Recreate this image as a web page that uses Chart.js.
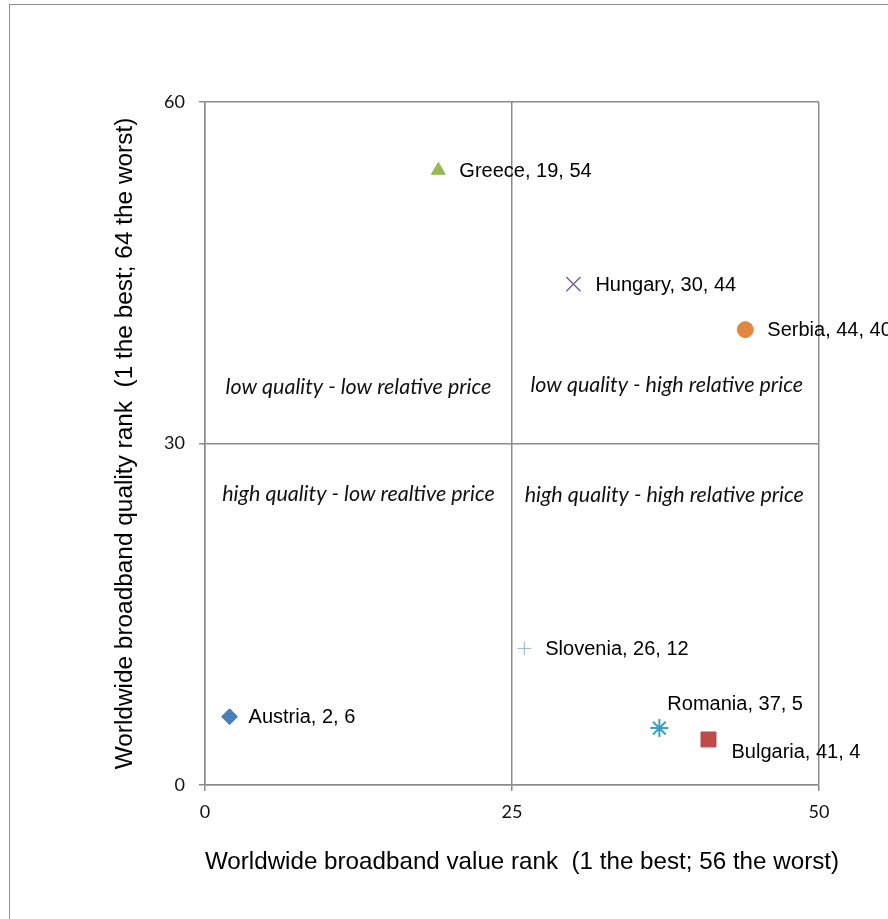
<!DOCTYPE html>
<html>
<head>
<meta charset="utf-8">
<script src="https://cdn.jsdelivr.net/npm/chart.js@4"></script>
<style>
  html, body { margin: 0; padding: 0; background: #fff; }
  #wrap { width: 888px; height: 919px; position: relative; overflow: hidden; }
</style>
</head>
<body>
<div id="wrap"><canvas id="c" width="888" height="919"></canvas></div>
<script>
// Country ranks: broadband value (x) and broadband quality (y)
const countries = ['Austria', 'Bulgaria', 'Greece', 'Hungary', 'Romania', 'Serbia', 'Slovenia'];
const valueRank = [2, 41, 19, 30, 37, 44, 26];
const qualityRank = [6, 4, 54, 44, 5, 40, 12];

// Axis ticks
const xTicks = [0, 25, 50];
const yTicks = [0, 30, 60];

// Axis titles
const xTitle = 'Worldwide broadband value rank  (1 the best; 56 the worst)';
const yTitle = 'Worldwide broadband quality rank  (1 the best; 64 the worst)';

// Quadrant captions
const quadrantText = [
  'low quality - low relative price',
  'low quality - high relative price',
  'high quality - low realtive price',
  'high quality - high relative price'
];

// Marker styling per series
const markerStyle = ['rectRot', 'rect', 'triangle', 'crossRot', 'star', 'circle', 'cross'];
const markerColor = ['#4a7ebb', '#be4b48', '#98b954', '#7d60a0', '#3d9fc0', '#e3873e', '#95b3d7'];
const markerRadius = [8, 10.6, 8, 10, 9, 8, 7];
const markerBorder = [1, 1, 1, 1.5, 2, 1, 1];

// Where each point's label sits relative to its marker (dx, dy in px)
const labelOffset = [[19, 1], [23, 13], [21, 1], [22, 1], [8, -24], [22, 1], [21, 1]];
// Quadrant caption anchors in data units [x, y]
const quadrantAnchor = [[12.5, 35], [37.6, 35.1], [12.5, 25.6], [37.4, 25.5]];

const gridGray = '#8c8c8c';

const datasets = countries.map((name, i) => ({
  label: name,
  data: [{ x: valueRank[i], y: qualityRank[i] }],
  pointStyle: markerStyle[i],
  pointRadius: markerRadius[i],
  pointHoverRadius: markerRadius[i],
  backgroundColor: markerColor[i],
  borderColor: markerColor[i],
  borderWidth: markerBorder[i],
  showLine: false
}));

const decorations = {
  id: 'decorations',
  beforeDraw(chart) {
    const ctx = chart.ctx;
    ctx.save();
    ctx.strokeStyle = gridGray;
    ctx.lineWidth = 1;
    ctx.strokeRect(9.5, 4.5, 1000, 1000);
    ctx.restore();
  },
  afterDraw(chart) {
    // horizontal axis title, allowed to run wider than the plot area
    const ctx = chart.ctx;
    const area = chart.chartArea;
    ctx.save();
    ctx.font = '24.2px "Liberation Sans"';
    ctx.fillStyle = '#000';
    ctx.textAlign = 'center';
    ctx.textBaseline = 'middle';
    ctx.fillText(xTitle, (area.left + area.right) / 2 + 10, area.bottom + 77);
    ctx.restore();
  },
  afterDatasetsDraw(chart) {
    const ctx = chart.ctx;
    const xs = chart.scales.x, ys = chart.scales.y;
    ctx.save();
    // quadrant captions
    ctx.font = 'italic 21.5px Lato';
    ctx.fillStyle = '#111';
    ctx.textAlign = 'center';
    ctx.textBaseline = 'middle';
    quadrantText.forEach((t, i) => {
      ctx.fillText(t, xs.getPixelForValue(quadrantAnchor[i][0]), ys.getPixelForValue(quadrantAnchor[i][1]));
    });
    // point labels
    ctx.font = '20px "Liberation Sans"';
    ctx.textAlign = 'left';
    ctx.fillStyle = '#000';
    chart.data.datasets.forEach((ds, i) => {
      const el = chart.getDatasetMeta(i).data[0];
      const txt = `${countries[i]}, ${valueRank[i]}, ${qualityRank[i]}`;
      ctx.fillText(txt, el.x + labelOffset[i][0], el.y + labelOffset[i][1]);
    });
    ctx.restore();
  }
};

new Chart(document.getElementById('c'), {
  type: 'scatter',
  data: { datasets },
  options: {
    responsive: false,
    animation: false,
    events: [],
    layout: { padding: { top: 102, right: 69, left: 0, bottom: 0 } },
    plugins: { legend: { display: false }, tooltip: { enabled: false } },
    scales: {
      x: {
        type: 'linear',
        min: 0, max: 50,
        afterBuildTicks(scale) { scale.ticks = xTicks.map(v => ({ value: v })); },
        afterFit(scale) { scale.height = 134; },
        grid: { color: gridGray, lineWidth: 1.5, tickLength: 6, drawTicks: true },
        border: { color: gridGray, width: 1.5 },
        ticks: { padding: 10, color: '#111', font: { family: 'Lato', size: 18 } },
        title: { display: false }
      },
      y: {
        type: 'linear',
        min: 0, max: 60,
        afterBuildTicks(scale) { scale.ticks = yTicks.map(v => ({ value: v })); },
        afterFit(scale) { scale.width = 205; },
        grid: { color: gridGray, lineWidth: 1.5, tickLength: 6, drawTicks: true },
        border: { color: gridGray, width: 1.5 },
        ticks: { padding: 14, color: '#111', font: { family: 'Lato', size: 18 } },
        title: {
          display: true,
          text: yTitle,
          color: '#000',
          font: { family: 'Liberation Sans', size: 24.4 },
          padding: { top: 111, bottom: 0 }
        }
      }
    }
  },
  plugins: [decorations]
});
</script>
</body>
</html>
